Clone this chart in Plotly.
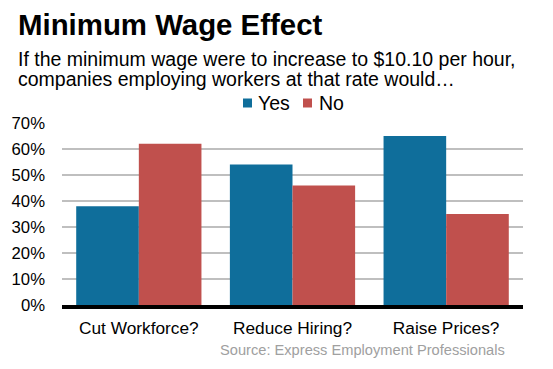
import plotly.graph_objects as go

categories = ["Cut Workforce?", "Reduce Hiring?", "Raise Prices?"]
series_names = ["Yes", "No"]
yes_vals = [38, 54, 65]
no_vals = [62, 46, 35]
tick_vals = [0, 10, 20, 30, 40, 50, 60, 70]
tick_text = ["0%", "10%", "20%", "30%", "40%", "50%", "60%", "70%"]

BLUE = "#0F6E9B"
RED = "#C0504D"
FONT = "Liberation Sans, Arial, sans-serif"

# plot area in pixels
L, R, T, B = 62, 30, 123, 64
W, H = 553, 369
PW, PH = W - L - R, H - T - B


def px(x):
    return (x - L) / PW


def py(y):
    return (H - B - y) / PH


fig = go.Figure()
fig.add_trace(go.Bar(name=series_names[0], x=categories, y=yes_vals,
                     marker=dict(color=BLUE, line=dict(width=0))))
fig.add_trace(go.Bar(name=series_names[1], x=categories, y=no_vals,
                     marker=dict(color=RED, line=dict(width=0))))

fig.update_layout(
    width=W, height=H,
    margin=dict(l=L, r=R, t=T, b=B, autoexpand=False),
    paper_bgcolor="white", plot_bgcolor="white",
    barmode="group", bargap=0.185, bargroupgap=0,
    font=dict(family=FONT, color="black"),
    showlegend=False,
    xaxis=dict(showline=True, linecolor="black", linewidth=4, ticks="",
               tickfont=dict(size=17.3), showgrid=False, automargin=False,
               ticklabelstandoff=4),
    yaxis=dict(range=[0, 70], tickvals=tick_vals, ticktext=tick_text,
               showgrid=True, gridcolor="#BFBFBF", gridwidth=2, zeroline=False,
               tickfont=dict(size=16.7), ticks="", ticklabelstandoff=16, automargin=False),
)

# Title and subtitle
fig.add_annotation(text="<b>Minimum Wage Effect</b>", xref="paper", yref="paper",
                   x=px(15.5), y=py(24.5), xanchor="left", yanchor="middle", showarrow=False,
                   font=dict(size=29.4, family=FONT))
fig.add_annotation(text="If the minimum wage were to increase to $10.10 per hour,",
                   xref="paper", yref="paper", x=px(15.5), y=py(59.3), xanchor="left", yanchor="middle",
                   showarrow=False, align="left", font=dict(size=19.5, family=FONT))
fig.add_annotation(text="companies employing workers at that rate would…",
                   xref="paper", yref="paper", x=px(15.5), y=py(78.6), xanchor="left", yanchor="middle",
                   showarrow=False, align="left", font=dict(size=19.5, family=FONT))

# Legend (squares + labels)
legend_items = [(series_names[0], BLUE, 243, 256), (series_names[1], RED, 303, 317)]
for name, color, sx, tx in legend_items:
    fig.add_shape(type="rect", xref="paper", yref="paper",
                  x0=px(sx), x1=px(sx + 9), y0=py(107.5), y1=py(98.5),
                  fillcolor=color, line=dict(width=0))
    fig.add_annotation(text=name, xref="paper", yref="paper", x=px(tx), y=py(102.6),
                       xanchor="left", yanchor="middle", showarrow=False,
                       font=dict(size=19.5, family=FONT))

# Source
fig.add_annotation(text="Source: Express Employment Professionals", xref="paper", yref="paper",
                   x=px(507), y=py(349.5), xanchor="right", yanchor="middle", showarrow=False,
                   font=dict(size=14.65, color="#A0A0A0", family=FONT))

fig.write_html("out.html", config={"displayModeBar": False},
               post_script="document.body.style.margin='0';")
